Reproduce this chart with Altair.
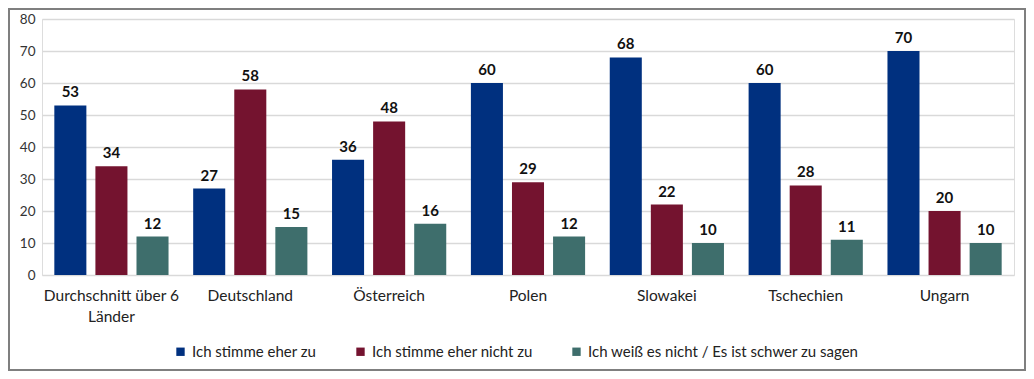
import altair as alt
import pandas as pd

countries = ["Durchschnitt über 6 Länder", "Deutschland", "Österreich", "Polen",
             "Slowakei", "Tschechien", "Ungarn"]
series = ["Ich stimme eher zu", "Ich stimme eher nicht zu",
          "Ich weiß es nicht / Es ist schwer zu sagen"]
agree = [53, 27, 36, 60, 68, 60, 70]
disagree = [34, 58, 48, 29, 22, 28, 20]
dontknow = [12, 15, 16, 12, 10, 11, 10]
colors = ["#00307F", "#74132F", "#3E6E6C"]

rows = []
for i, c in enumerate(countries):
    for s, vals in zip(series, [agree, disagree, dontknow]):
        rows.append({"Land": c, "Antwort": s, "Wert": vals[i]})
df = pd.DataFrame(rows)

FONT = "Lato"

x = alt.X("Land:N", sort=countries, title=None,
          scale=alt.Scale(paddingInner=0, paddingOuter=0),
          axis=alt.Axis(labelAngle=0, domain=False, ticks=False, labelPadding=13,
                        labelFontSize=15.5, labelColor="#222", labelFont=FONT,
                        labelLineHeight=21, labelLimit=0,
                        labelExpr="datum.label == 'Durchschnitt über 6 Länder' ? ['Durchschnitt über 6', 'Länder'] : datum.label"))
xo = alt.XOffset("Antwort:N", sort=series,
                 scale=alt.Scale(paddingInner=0.22, paddingOuter=0.3))
y = alt.Y("Wert:Q", title=None,
          scale=alt.Scale(domain=[0, 80]),
          axis=alt.Axis(values=list(range(0, 81, 10)), domain=False, ticks=False,
                        gridColor="#D9D9D9", gridWidth=1.5, labelPadding=7,
                        labelFontSize=13.5, labelColor="#333", labelFont=FONT))

bars = alt.Chart(df).mark_bar().encode(
    x=x, xOffset=xo, y=y,
    color=alt.Color("Antwort:N", sort=series,
                    scale=alt.Scale(domain=series, range=colors),
                    legend=alt.Legend(title=None, orient="none", direction="horizontal",
                                      legendX=131, legendY=325, symbolType="square",
                                      symbolSize=70, symbolStrokeWidth=0,
                                      labelFontSize=15, labelFont=FONT, labelColor="#222",
                                      labelLimit=0, columnPadding=36, labelOffset=4)),
)

labels = alt.Chart(df).mark_text(dy=-13, fontWeight="bold", fontSize=15, font=FONT,
                                 color="#111").encode(
    x=x, xOffset=xo, y=y, text=alt.Text("Wert:Q"))

frame = alt.Chart(pd.DataFrame({"f": [0]})).mark_rect(
    fill=None, stroke="#7F7F7F", strokeWidth=2).encode(
    x=alt.value(-33), x2=alt.value(983), y=alt.value(-10), y2=alt.value(351))

chart = alt.layer(bars, labels, frame).properties(
    width=972, height=256,
    autosize=alt.AutoSizeParams(type="none"),
    padding={"left": 34, "top": 11, "right": 12, "bottom": 96},
).configure_view(stroke=None).configure(background="white")

chart.save("out.html", embed_options={"renderer": "svg", "actions": False})
